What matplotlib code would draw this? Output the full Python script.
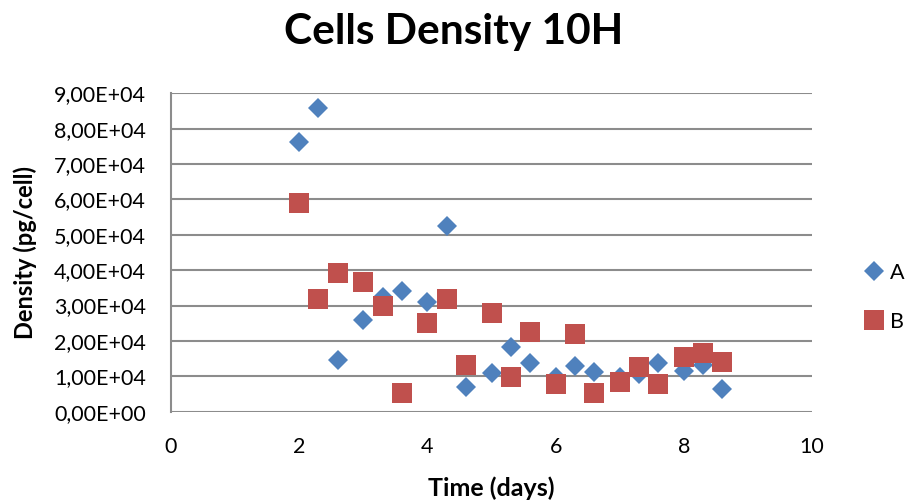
import matplotlib
matplotlib.use('Agg')
import matplotlib.pyplot as plt
from matplotlib.ticker import FuncFormatter, MultipleLocator

plt.rcParams['font.family'] = ['Lato', 'DejaVu Sans']

# Data
time_days = [2.0, 2.3, 2.6, 3.0, 3.3, 3.6, 4.0, 4.3, 4.6, 5.0, 5.3,
             5.6, 6.0, 6.3, 6.6, 7.0, 7.3, 7.6, 8.0, 8.3, 8.6]
density_a = [7.62e4, 8.58e4, 1.46e4, 2.59e4, 3.25e4, 3.40e4, 3.09e4, 5.26e4,
             0.70e4, 1.10e4, 1.84e4, 1.39e4, 0.99e4, 1.30e4, 1.11e4, 0.99e4,
             1.08e4, 1.39e4, 1.16e4, 1.32e4, 0.64e4]
density_b = [5.89e4, 3.20e4, 3.93e4, 3.67e4, 3.00e4, 0.52e4, 2.52e4, 3.20e4,
             1.32e4, 2.79e4, 0.98e4, 2.26e4, 0.77e4, 2.19e4, 0.52e4, 0.84e4,
             1.25e4, 0.78e4, 1.55e4, 1.67e4, 1.40e4]

fig = plt.figure(figsize=(9.08, 5.01), dpi=100)
ax = fig.add_axes([0.1883, 0.1782, 0.7060, 0.6356])

ax.plot(time_days, density_a, linestyle='none', marker='D', markersize=10.2,
        color='#4F81BD', markeredgewidth=0, label='A', zorder=3)
ax.plot(time_days, density_b, linestyle='none', marker='s', markersize=14.4,
        color='#C0504D', markeredgewidth=0, label='B', zorder=3)

ax.set_xlim(0, 10)
ax.set_ylim(0, 9e4)
ax.xaxis.set_major_locator(MultipleLocator(2))
ax.yaxis.set_major_locator(MultipleLocator(1e4))
ax.yaxis.set_major_formatter(FuncFormatter(lambda v, p: format(v, '.2E').replace('.', ',')))

ax.grid(axis='y', color='#8C8C8C', linewidth=1.5)
ax.set_axisbelow(True)
for side in ['top', 'right', 'bottom']:
    ax.spines[side].set_visible(False)
ax.spines['left'].set_color('#8C8C8C')
ax.spines['left'].set_linewidth(1.5)
ax.tick_params(length=0, labelsize=15.5, colors='black')
ax.tick_params(axis='x', pad=18)
ax.tick_params(axis='y', pad=18)

fig.suptitle('Cells Density 10H', fontsize=30.5, fontweight='bold', x=0.5, y=0.975)
ax.set_xlabel('Time (days)', fontsize=18, fontweight='bold', labelpad=14)
ax.set_ylabel('Density (pg/cell)', fontsize=17, fontweight='bold', labelpad=12)

ax.legend(loc='center left', bbox_to_anchor=(1.047, 0.36), frameon=False,
          fontsize=15.5, labelspacing=1.35, handletextpad=0.1, handlelength=1.2)

fig.savefig('out.png', dpi=100)
